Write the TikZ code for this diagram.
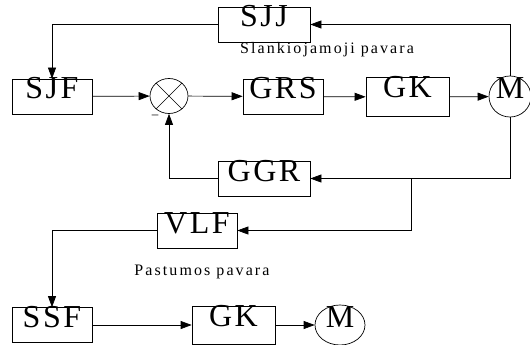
\documentclass[tikz,border=0pt]{standalone}
\usepackage{fontspec}
\setmainfont{Liberation Serif}
\usetikzlibrary{arrows.meta,shapes.geometric}

\newcommand{\blkfont}{\fontsize{32}{32}\selectfont\addfontfeature{LetterSpace=8}}
\newcommand{\capfont}{\fontsize{16}{16}\selectfont\addfontfeature{LetterSpace=13}}

\tikzset{
  blk/.style={draw, inner sep=0pt, minimum width=80pt, text height=20pt, text depth=15pt, font=\blkfont},
  motor/.style={draw, ellipse, inner sep=0pt},
  summer/.style={draw, ellipse, inner sep=0pt, minimum width=38pt, minimum height=35pt},
  line/.style={-{Triangle[length=11pt,width=8pt]}},
}

\begin{document}
\begin{tikzpicture}[x=1pt, y=-1pt, line width=0.7pt]
\useasboundingbox (0,0) rectangle (530,345);

% slankiojamoji pavara
\node[blk, minimum width=92pt] (sjj) at (264,24.5) {SJJ};
\node[font=\capfont] (slank) at (327,50) {Slankiojamoji pavara};
\node[blk] (sjf) at (52,96.5) {SJF};
\node[summer] (sum) at (169,96) {};
\draw (sum.45) -- (sum.225) (sum.135) -- (sum.315);
\node[font=\fontsize{13}{13}\selectfont] (minus) at (155,117) {\textendash};
\node[blk] (grs) at (283,96.5) {GRS};
\node[blk, minimum width=83pt, text depth=19pt] (gk) at (407.5,97) {GK};
\node[motor, minimum width=42pt, minimum height=41pt,
  label={[font=\blkfont, anchor=north, inner sep=0pt, yshift=-2pt]north:M}] (m) at (510,96.5) {};
\node[blk, minimum width=92pt] (ggr) at (264,178.5) {GGR};

\draw[line] (sjj.west) -| (sjf.north);
\draw[line] (m.north) |- (sjj.east);
\draw[line] (sjf) -- (sum);
\draw[line] (sum) -- (grs);
\draw[line] (grs) -- (gk);
\draw[line] (gk) -- (m);
\draw[line] (m.south) |- (ggr.east);
\draw[line] (ggr.west) -| (sum.south);

% pastumos pavara
\coordinate (tap) at (411,178.5);
\node[blk] (vlf) at (197,230.5) {VLF};
\node[font=\capfont] (past) at (202,272) {Pastumos pavara};
\node[blk] (ssf) at (52,325) {SSF};
\node[blk, minimum width=83pt, text depth=18pt] (gk2) at (233.5,325) {GK};
\node[motor, minimum width=50pt, minimum height=40pt,
  label={[font=\blkfont, anchor=north, inner sep=0pt, yshift=-2pt]north:M}] (m2) at (340,325) {};

\draw[line] (tap) |- (vlf.east);
\draw[line] (vlf.west) -| (ssf.north);
\draw[line] (ssf) -- (gk2);
\draw[line] (gk2) -- (m2);
\end{tikzpicture}
\end{document}
